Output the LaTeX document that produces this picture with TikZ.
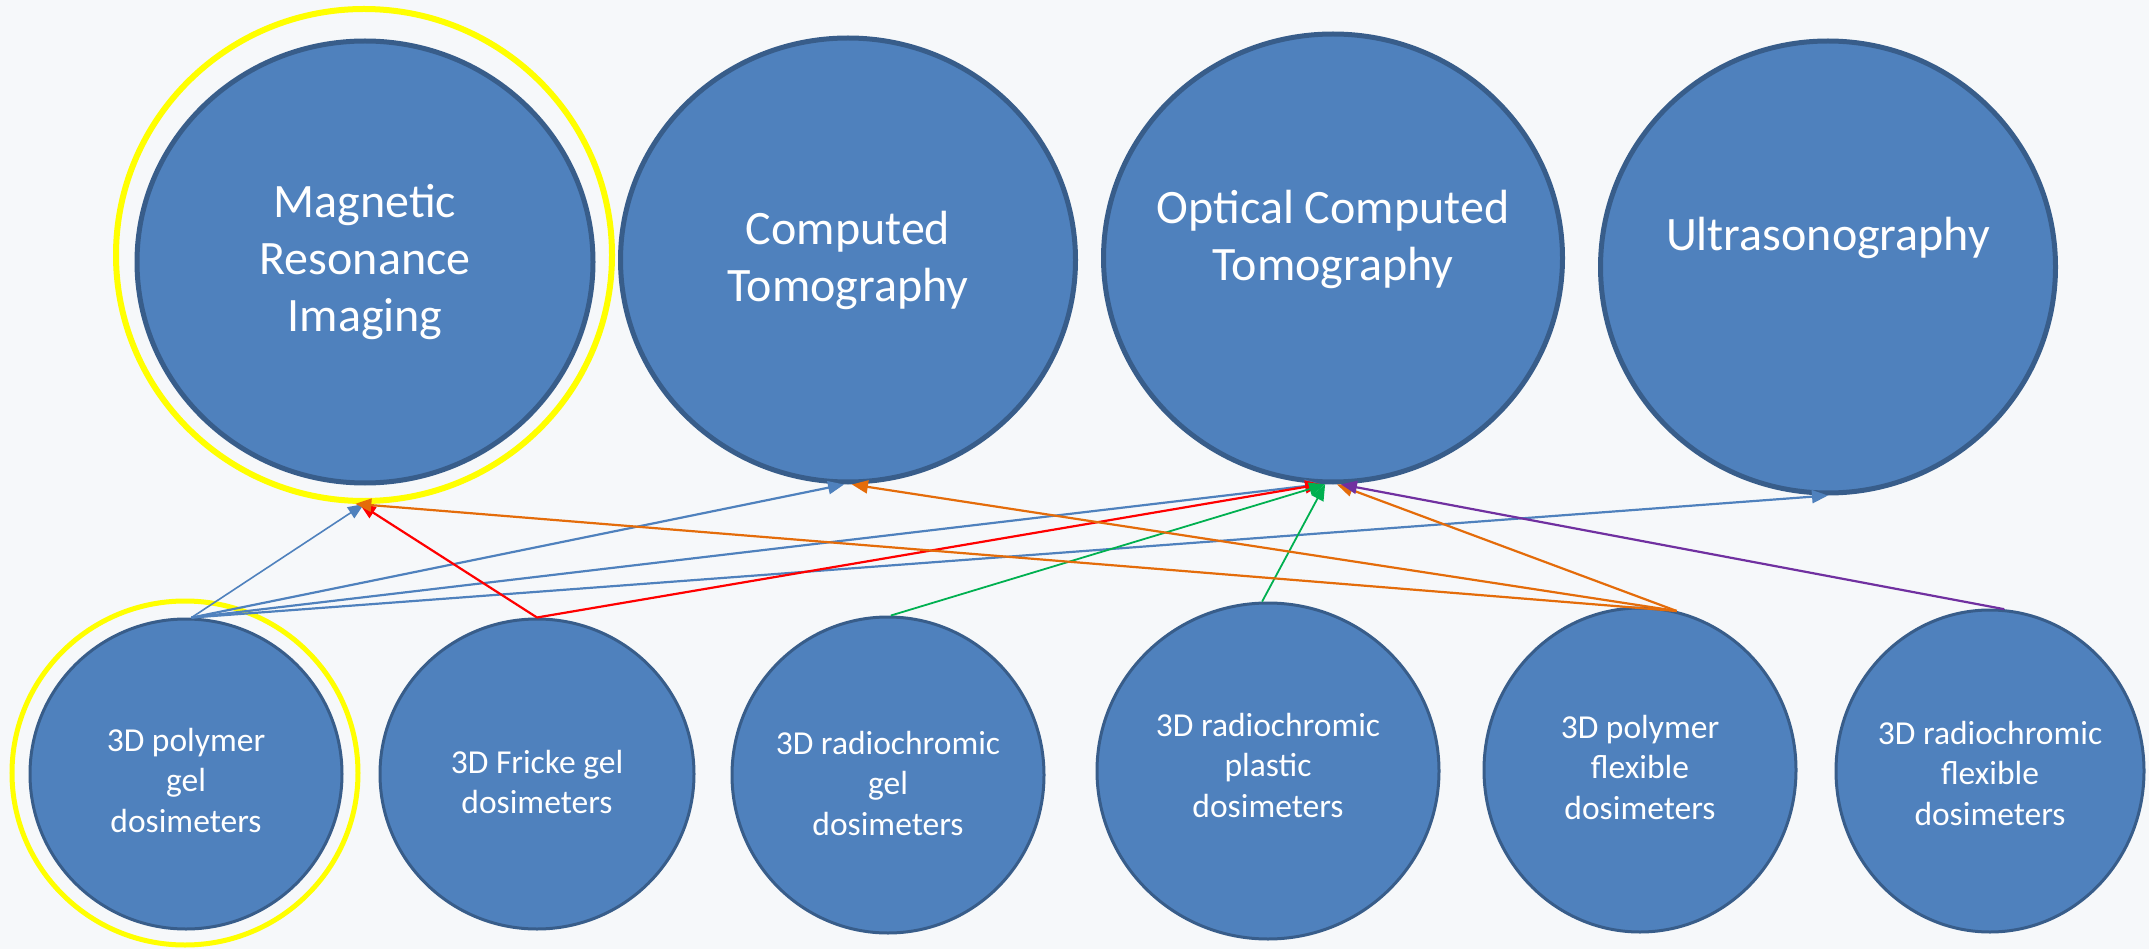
\documentclass[tikz,border=0pt]{standalone}
\usepackage{fontspec}
\setmainfont{Carlito}
\usetikzlibrary{shapes.geometric,arrows.meta}
\definecolor{bg}{HTML}{F6F8FA}
\definecolor{nodefill}{HTML}{4F81BD}
\definecolor{nodeline}{HTML}{385D8A}
\definecolor{oorange}{HTML}{E46C0A}
\definecolor{ogreen}{HTML}{00B050}
\definecolor{opurple}{HTML}{7030A0}
\definecolor{oblue}{HTML}{4F81BD}
\definecolor{ored}{HTML}{FF0000}
\definecolor{oyellow}{HTML}{FFFF00}
\begin{document}
\begin{tikzpicture}[x=1pt,y=-1pt,
  big/.style={ellipse, fill=nodefill, draw=nodeline, line width=5pt, inner sep=0pt},
  small/.style={ellipse, fill=nodefill, draw=nodeline, line width=3pt, inner sep=0pt},
  ring/.style={ellipse, draw=oyellow, inner sep=0pt},
  bigtxt/.style={text=white, align=center, inner sep=0pt, font=\fontsize{48}{57}\selectfont},
  smalltxt/.style={text=white, align=center, inner sep=0pt, font=\fontsize{33.5}{40.5}\selectfont},
  conn/.style={line width=2.2pt, -{Triangle[length=16pt,width=13pt]}},
]
\fill[bg] (0,0) rectangle (2149,949);
\useasboundingbox (0,0) rectangle (2149,949);

% rings
\node[ring, line width=6pt, minimum width=496pt, minimum height=492pt] (mriring) at (364,255) {};
\node[ring, line width=5pt, minimum width=346pt, minimum height=344pt] (pgring) at (185,773) {};

% top row
\node[big, minimum width=456pt, minimum height=442pt] (mri) at (365,262) {};
\node[big, minimum width=455pt, minimum height=444pt] (ct) at (848,260) {};
\node[big, minimum width=459pt, minimum height=448pt] (oct) at (1333,258) {};
\node[big, minimum width=455pt, minimum height=452pt] (us) at (1828,267) {};

\node[bigtxt] (mri-t) at (365,262) {Magnetic\\Resonance\\Imaging};
\node[bigtxt] (ct-t) at (848,260) {Computed\\Tomography};
\node[bigtxt] (oct-t) at (1333,239) {Optical Computed\\Tomography};
\node[bigtxt] (us-t) at (1828,238) {Ultrasonography};

% bottom row
\node[small, minimum width=312pt, minimum height=310pt] (pg) at (186,774) {};
\node[small, minimum width=314pt, minimum height=310pt] (fr) at (537,774) {};
\node[small, minimum width=312pt, minimum height=316pt] (rg) at (888,775) {};
\node[small, minimum width=342pt, minimum height=336pt] (pl) at (1268,771) {};
\node[small, minimum width=312pt, minimum height=324pt] (pf) at (1640,770) {};
\node[small, minimum width=308pt, minimum height=322pt] (rf) at (1990,771) {};

\node[smalltxt] (pg-t) at (186,780) {3D polymer\\gel\\dosimeters};
\node[smalltxt] (fr-t) at (537,782) {3D Fricke gel\\dosimeters};
\node[smalltxt] (rg-t) at (888,783) {3D radiochromic\\gel\\dosimeters};
\node[smalltxt] (pl-t) at (1268,765) {3D radiochromic\\plastic\\dosimeters};
\node[smalltxt] (pf-t) at (1640,767) {3D polymer\\flexible\\dosimeters};
\node[smalltxt] (rf-t) at (1990,773) {3D radiochromic\\flexible\\dosimeters};

% connectors
\draw[conn, oblue, line width=1.6pt] (pg.88) -- (mriring.-90.6);
\draw[conn, oblue] (pg.88) -- (ct.-91.3);
\draw[conn, oblue] (pg.88) -- (oct.-93.6);
\draw[conn, oblue] (pg.88) -- (us.-90.8);

\draw[conn, ored] (fr.north) -- (mriring.-91.4);
\draw[conn, ored] (fr.north) -- (oct.-93);

\draw[conn, ogreen, line width=1.8pt] (rg.89) -- (oct.-92.6);
\draw[conn, ogreen, line width=1.8pt] (pl.92) -- (oct.-92.2);

\draw[conn, oorange] (pf.77) -- (mriring.-92);
\draw[conn, oorange] (pf.77) -- (ct.-89.4);
\draw[conn, oorange] (pf.77) -- (oct.-89.3);

\draw[conn, opurple] (rf.85) -- (oct.-88.6);
\end{tikzpicture}
\end{document}
